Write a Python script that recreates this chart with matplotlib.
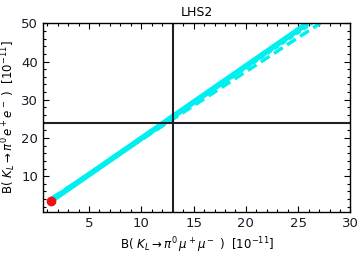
import numpy as np
import matplotlib.pyplot as plt
from matplotlib.ticker import MultipleLocator

# band of predictions (start point -> end at top of frame)
solid_x = [1.4, 25.9]
solid_y = [3.6, 50.0]
dotted_x = [1.4, 26.3]
dotted_y = [4.0, 50.0]
dashed_x = [1.4, 27.1]
dashed_y = [4.2, 50.0]

sm_point = (1.4, 3.6)
hline_y = 24.0
vline_x = 13.0

fig = plt.figure(figsize=(3.6, 2.56), dpi=100)
ax = fig.add_axes([0.1194, 0.173, 0.8542, 0.736])

cyan = '#00f0f0'
ax.plot(solid_x, solid_y, color=cyan, lw=4.0, solid_capstyle='butt')
ax.plot(dotted_x, dotted_y, color=cyan, lw=2.5, ls=(0, (1.5, 1)))
ax.plot(dashed_x, dashed_y, color=cyan, lw=2.5, ls=(0, (3, 1.5)))

ax.axhline(hline_y, color='#202020', lw=1.5)
ax.axvline(vline_x, color='#202020', lw=1.5)
ax.plot(*sm_point, 'o', color='#ee1111', ms=6, zorder=5)

ax.set_xlim(0.6, 30)
ax.set_ylim(0.7, 50)
ax.xaxis.set_major_locator(MultipleLocator(5))
ax.xaxis.set_minor_locator(MultipleLocator(1))
ax.yaxis.set_major_locator(MultipleLocator(10))
ax.yaxis.set_minor_locator(MultipleLocator(2))
ax.tick_params(which='both', direction='in', top=True, right=True,
               labelsize=9.5, labelcolor='#1a1a2a', width=0.8)
ax.tick_params(which='major', length=4)
ax.tick_params(which='minor', length=2)
ax.set_xticks([5, 10, 15, 20, 25, 30])
for s in ax.spines.values():
    s.set_linewidth(1.0)

ax.set_title('LHS2', fontsize=9, pad=5)
ax.set_xlabel(r'B( $K_L \rightarrow \pi^0\, \mu^+ \mu^-$ )  [$10^{-11}$]',
              fontsize=8.5, labelpad=4)
ax.set_ylabel(r'B( $K_L \rightarrow \pi^0\, e^+ e^-$ )  [$10^{-11}$]',
              fontsize=8.5, labelpad=2)

fig.savefig('out.png', dpi=100)
